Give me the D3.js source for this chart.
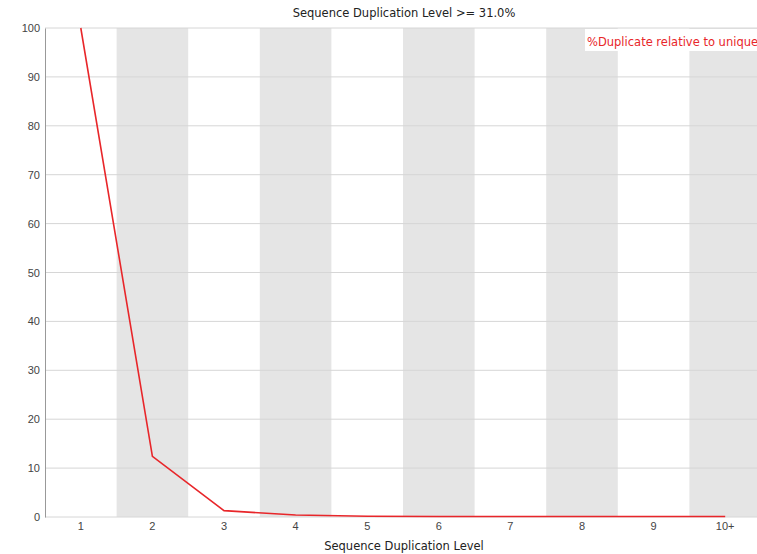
<!DOCTYPE html>
<html>
<head>
<meta charset="utf-8">
<script src="https://cdn.jsdelivr.net/npm/d3@7"></script>
<style>
  body { margin: 0; background: #fff; }
  svg { display: block; font-family: "DejaVu Sans", sans-serif; }
  .tick text { fill: #444; font-size: 11px; }
</style>
</head>
<body>
<script>
// duplication levels and % relative to unique
var levels = ["1", "2", "3", "4", "5", "6", "7", "8", "9", "10+"];
var dupValues = [100, 12.4, 1.3, 0.4, 0.15, 0.1, 0.1, 0.1, 0.1, 0.1];
var yTicks = [0, 10, 20, 30, 40, 50, 60, 70, 80, 90, 100];
var title = "Sequence Duplication Level >= 31.0%";
var xTitle = "Sequence Duplication Level";
var legendLabel = "%Duplicate relative to unique";

var width = 757, height = 554;
var plotLeft = 45, plotRight = 761, plotTop = 28, plotBottom = 517;

var svg = d3.select("body").append("svg")
    .attr("width", width)
    .attr("height", height);

var x = d3.scaleBand()
    .domain(levels)
    .range([plotLeft, plotRight])
    .padding(0);

var y = d3.scaleLinear()
    .domain([0, 100])
    .range([plotBottom, plotTop]);

// alternating bands
svg.append("g")
    .selectAll("rect")
    .data(levels.filter(function(d, i) { return i % 2 == 1; }))
    .enter().append("rect")
    .attr("x", function(d) { return x(d); })
    .attr("y", plotTop)
    .attr("width", x.bandwidth())
    .attr("height", plotBottom - plotTop)
    .style("fill", "#e5e5e5");

// horizontal grid
svg.append("g")
    .selectAll("line")
    .data(yTicks)
    .enter().append("line")
    .attr("x1", plotLeft)
    .attr("x2", plotRight)
    .attr("y1", function(d) { return y(d); })
    .attr("y2", function(d) { return y(d); })
    .style("stroke", "#d6d6d6")
    .style("stroke-width", 1);

// y axis
var yAxis = svg.append("g")
    .attr("transform", "translate(" + plotLeft + ",0)")
    .call(d3.axisLeft(y).tickValues(yTicks).tickSize(0).tickPadding(5));
yAxis.select(".domain").style("stroke", "#999");

// x axis
var xAxis = svg.append("g")
    .attr("transform", "translate(0," + plotBottom + ")")
    .call(d3.axisBottom(x).tickSize(0).tickPadding(5));
xAxis.select(".domain").remove();

// legend box
svg.append("rect")
    .attr("x", 585)
    .attr("y", plotTop + 1)
    .attr("width", 200)
    .attr("height", 22)
    .style("fill", "#fff");

svg.append("text")
    .attr("x", 587)
    .attr("y", 46)
    .style("font-size", "11.5px")
    .style("fill", "#e8262a")
    .text(legendLabel);

// line
var line = d3.line()
    .x(function(d, i) { return x(levels[i]) + x.bandwidth() / 2; })
    .y(function(d) { return y(d); });

svg.append("path")
    .datum(dupValues)
    .attr("d", line)
    .style("fill", "none")
    .style("stroke", "#e8262a")
    .style("stroke-width", 1.6);

// titles
svg.append("text")
    .attr("x", 404)
    .attr("y", 17)
    .attr("text-anchor", "middle")
    .style("font-size", "11.5px")
    .style("fill", "#222")
    .text(title);

svg.append("text")
    .attr("x", 404)
    .attr("y", 550)
    .attr("text-anchor", "middle")
    .style("font-size", "11.5px")
    .style("fill", "#222")
    .text(xTitle);
</script>
</body>
</html>
